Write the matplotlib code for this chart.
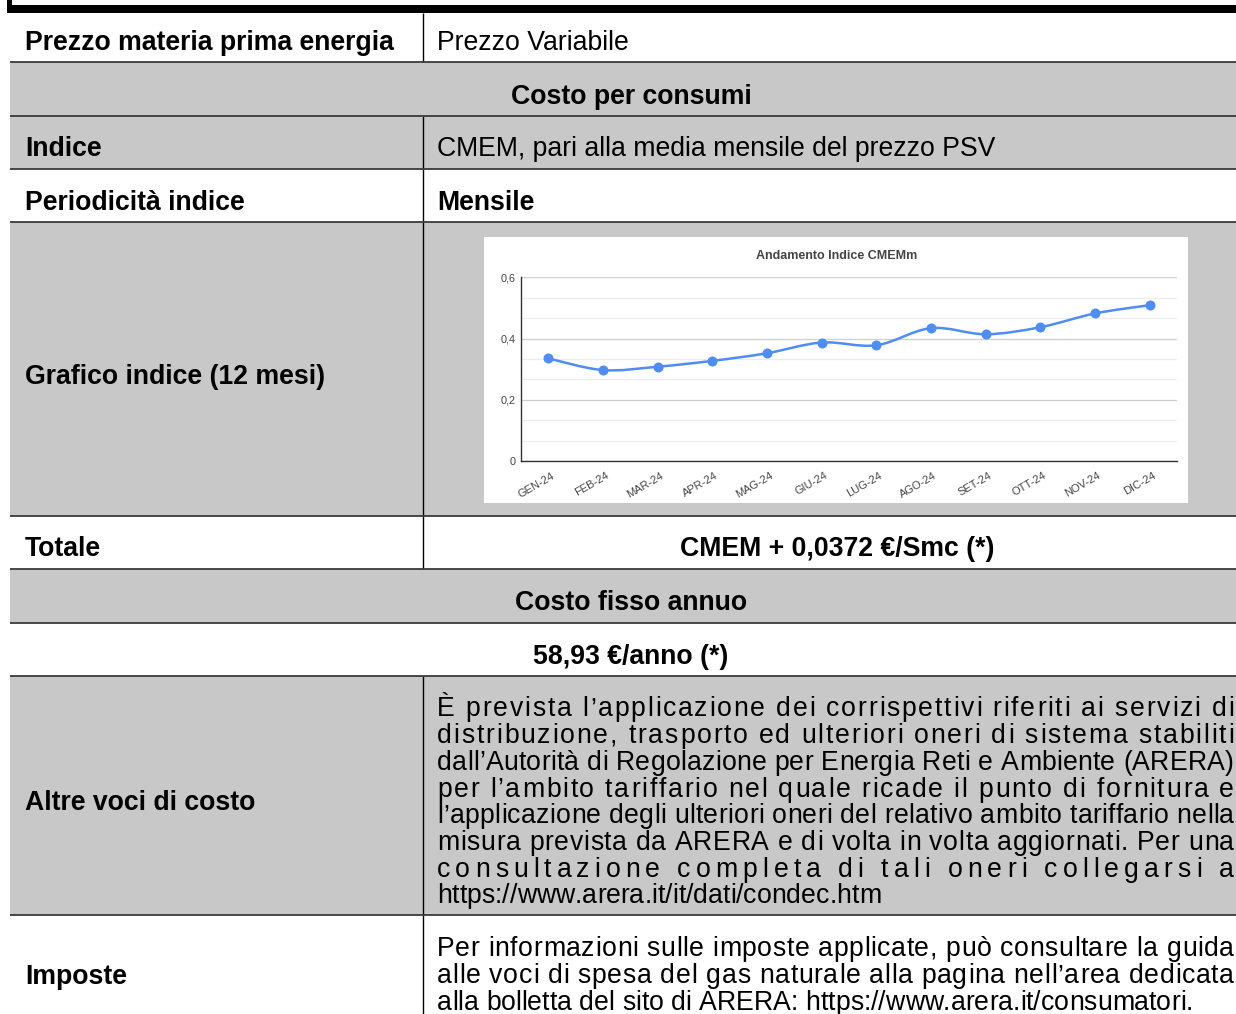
import numpy as np
import matplotlib
matplotlib.use("Agg")
import matplotlib.pyplot as plt
from matplotlib.patches import Rectangle, PathPatch
from matplotlib.path import Path
from matplotlib.transforms import ScaledTranslation
from matplotlib.ticker import MultipleLocator, FixedLocator
from matplotlib import font_manager, ft2font

# ---------------- data ----------------
months = ["GEN-24", "FEB-24", "MAR-24", "APR-24", "MAG-24", "GIU-24",
          "LUG-24", "AGO-24", "SET-24", "OTT-24", "NOV-24", "DIC-24"]
cmem = [0.335, 0.297, 0.308, 0.327, 0.352, 0.387,
        0.378, 0.434, 0.414, 0.437, 0.482, 0.509]
y_ticks = [0.0, 0.2, 0.4, 0.6]
y_tick_labels = ["0", "0,2", "0,4", "0,6"]
chart_title = "Andamento Indice CMEMm"

row_labels = ["Prezzo materia prima energia", "Indice", "Periodicità indice",
              "Grafico indice (12 mesi)", "Totale", "Altre voci di costo", "Imposte"]
row_values = ["Prezzo Variabile", "CMEM, pari alla media mensile del prezzo PSV", "Mensile"]
section_titles = ["Costo per consumi", "Costo fisso annuo"]
totale_text = "CMEM + 0,0372 €/Smc (*)"
fisso_text = "58,93 €/anno (*)"
altre_lines = [
    "È prevista l’applicazione dei corrispettivi riferiti ai servizi di",
    "distribuzione, trasporto ed ulteriori oneri di sistema stabiliti",
    "dall’Autorità di Regolazione per Energia Reti e Ambiente (ARERA)",
    "per l’ambito tariffario nel quale ricade il punto di fornitura e",
    "l’applicazione degli ulteriori oneri del relativo ambito tariffario nella",
    "misura prevista da ARERA e di volta in volta aggiornati. Per una",
    "consultazione completa di tali oneri collegarsi a",
    "https://www.arera.it/it/dati/condec.htm",
]
imposte_lines = [
    "Per informazioni sulle imposte applicate, può consultare la guida",
    "alle voci di spesa del gas naturale alla pagina nell’area dedicata",
    "alla bolletta del sito di ARERA: https://www.arera.it/consumatori.",
]

# ---------------- figure ----------------
W, H = 1236, 1014
DPI = 100
FS = 19.2
FAM = "Liberation Sans"
GRAY = "#c8c8c8"
LINE = "#3a3a3a"

fig = plt.figure(figsize=(W / DPI, H / DPI), dpi=DPI)
bg = fig.add_axes([0, 0, 1, 1])
bg.set_xlim(0, W)
bg.set_ylim(H, 0)
bg.axis("off")

# top black frame (bottom of previous box)
bg.add_patch(Rectangle((7, 5), W, 8, facecolor="black", edgecolor="none", zorder=3))
bg.add_patch(Rectangle((7, 0), 4.7, 13, facecolor="black", edgecolor="none", zorder=3))

row_tops = [13, 62, 116, 169, 222, 516, 569, 623, 676, 915, 1030]
row_gray = [False, True, True, False, True, False, True, False, True, False]
row_split = [True, False, True, True, True, True, False, False, True, True]
X0, X1, XDIV = 10, 1252, 423

for i in range(len(row_tops) - 1):
    t, b = row_tops[i], row_tops[i + 1]
    if row_gray[i]:
        bg.add_patch(Rectangle((X0, t), X1 - X0, b - t, facecolor=GRAY,
                               edgecolor="none", zorder=0))
    if row_split[i]:
        bg.plot([XDIV, XDIV], [t, b], color="black", lw=1.0, zorder=2,
                solid_capstyle="butt")
for y in row_tops[1:-1]:
    bg.plot([X0, X1], [y, y], color=LINE, lw=1.3, zorder=2, solid_capstyle="butt")

fp_b = font_manager.FontProperties(family=FAM, weight="bold", size=FS)
fp_r = font_manager.FontProperties(family=FAM, size=FS)

LX, RX = 25, 437
CX_FULL, CX_RIGHT = 631, 837.5

def t(x, y, s, fp, ha="left"):
    bg.text(x, y, s, fontproperties=fp, ha=ha, va="baseline", color="black", zorder=4)

t(LX, 49.5, row_labels[0], fp_b)
t(RX, 49.5, row_values[0], fp_r)
t(CX_FULL, 103.5, section_titles[0], fp_b, "center")
t(LX, 156.5, row_labels[1], fp_b)
t(RX, 156.5, row_values[1], fp_r)
t(LX, 209.5, row_labels[2], fp_b)
t(RX, 209.5, row_values[2], fp_b)
t(LX, 383.5, row_labels[3], fp_b)
t(LX, 556.5, row_labels[4], fp_b)
t(CX_RIGHT, 556.5, totale_text, fp_b, "center")
t(CX_FULL, 610.5, section_titles[1], fp_b, "center")
t(CX_FULL, 663.5, fisso_text, fp_b, "center")
t(LX, 810.5, row_labels[5], fp_b)
t(LX, 983.5, row_labels[6], fp_b)

# ---------- justified paragraphs (character-level spacing) ----------
ftfont = ft2font.FT2Font(font_manager.findfont(fp_r))
ftfont.set_size(FS, DPI)
try:
    NOH = ft2font.LoadFlags.NO_HINTING
except AttributeError:
    NOH = ft2font.LOAD_NO_HINTING

def advance(c):
    g = ftfont.load_char(ord(c), flags=NOH)
    return g.linearHoriAdvance / 65536.0

def para(lines, x0, x1, y0, dy):
    for k, line in enumerate(lines):
        yb = y0 + k * dy
        advs = [advance(c) for c in line]
        nat = sum(advs)
        last = (k == len(lines) - 1)
        extra = 0.0 if last else (x1 - x0 - nat) / (len(line) - 1)
        x = x0
        for c, a in zip(line, advs):
            if c != " ":
                bg.text(x, yb, c, fontproperties=fp_r, ha="left",
                        va="baseline", color="black", zorder=4)
            x += a + extra

para(altre_lines, RX, 1234, 716.5, 26.7)
para(imposte_lines, RX, 1234, 956.5, 26.9)

# ---------------- embedded chart ----------------
bg.add_patch(Rectangle((484, 237), 1188 - 484, 503 - 237, facecolor="white",
                       edgecolor="none", zorder=1))
bg.text(837, 256, chart_title, family=FAM, weight="bold", fontsize=9,
        color="#444444", ha="center", va="center", zorder=4)

ax = fig.add_axes([521 / W, 1 - 461 / H, (1177 - 521) / W, (461 - 277.3) / H])
ax.set_facecolor("none")
ax.set_xlim(-0.5, len(months) - 0.5)
ax.set_ylim(0, 0.6)
for s in ["top", "right"]:
    ax.spines[s].set_visible(False)
for s in ["left", "bottom"]:
    ax.spines[s].set_color("#333333")
    ax.spines[s].set_linewidth(1.0)
ax.yaxis.set_major_locator(FixedLocator(y_ticks))
ax.set_yticklabels(y_tick_labels)
ax.yaxis.set_minor_locator(MultipleLocator(0.2 / 3))
ax.grid(True, which="major", axis="y", color="#cfcfcf", lw=0.9)
ax.grid(True, which="minor", axis="y", color="#ececec", lw=0.9)
ax.set_axisbelow(True)
ax.tick_params(axis="y", which="both", length=0, pad=4, labelsize=7.8,
               labelcolor="#444444")
ax.set_xticks(np.arange(len(months)))
ax.set_xticklabels(months, rotation=30, ha="right", va="center",
                   rotation_mode="anchor", fontsize=8, color="#444444", family=FAM)
ax.tick_params(axis="x", length=0, pad=10)
for lab in ax.get_xticklabels():
    lab.set_transform(lab.get_transform() + ScaledTranslation(5 / DPI, 0, fig.dpi_scale_trans))
for lab in ax.get_yticklabels():
    lab.set_family(FAM)

# smooth curve (Catmull-Rom -> cubic Bezier) through the data points
xs = np.arange(len(cmem), dtype=float)
ys = np.asarray(cmem, dtype=float)
P = np.column_stack([xs, ys])
verts = [P[0]]
codes = [Path.MOVETO]
n = len(P)
for i in range(n - 1):
    p0 = P[i - 1] if i > 0 else P[i]
    p1, p2 = P[i], P[i + 1]
    p3 = P[i + 2] if i + 2 < n else P[i + 1]
    c1 = p1 + (p2 - p0) / 6.0
    c2 = p2 - (p3 - p1) / 6.0
    verts += [c1, c2, p2]
    codes += [Path.CURVE4] * 3
color = "#4f8df2"
ax.add_patch(PathPatch(Path(verts, codes), facecolor="none", edgecolor=color,
                       lw=1.8, transform=ax.transData, zorder=3))
ax.plot(xs, ys, "o", ms=6.2, color=color, zorder=4, clip_on=False)

fig.savefig("out.png", dpi=DPI)
